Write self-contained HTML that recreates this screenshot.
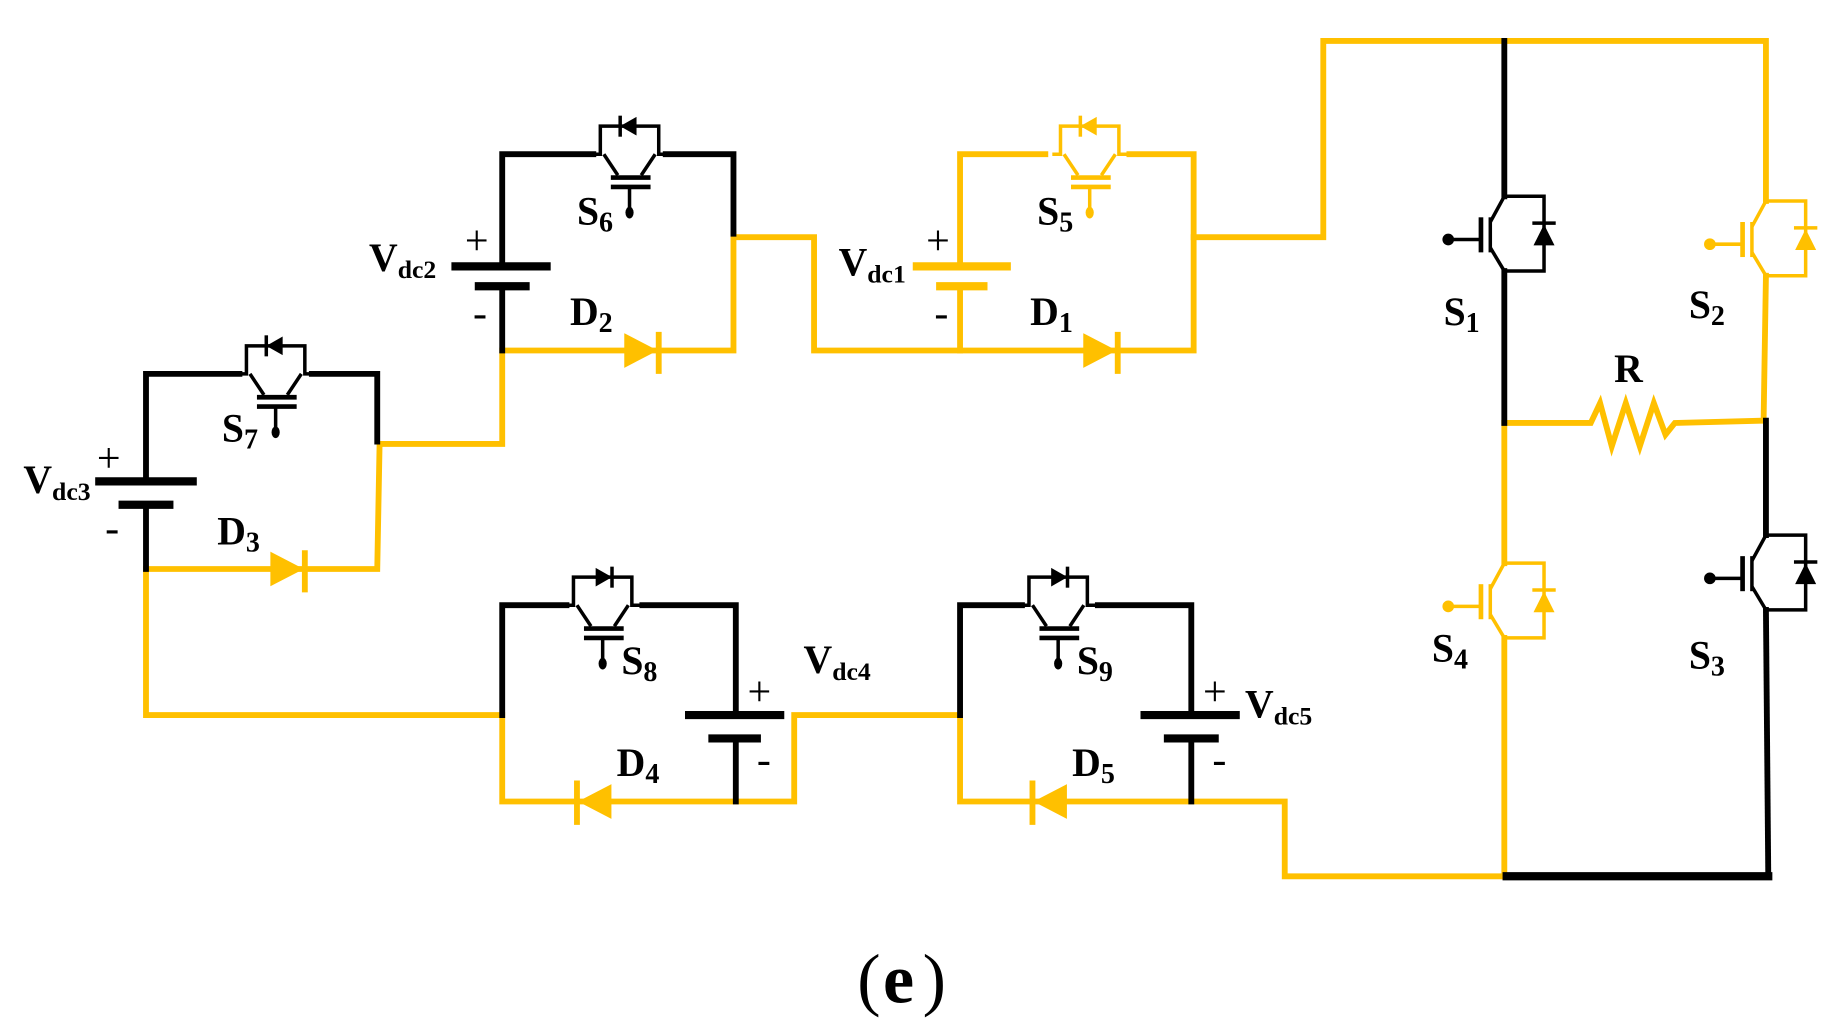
<!DOCTYPE html>
<html><head><style>
html,body{margin:0;padding:0;background:#fff;}
svg{display:block;}
text{font-family:"Liberation Serif",serif;font-weight:bold;fill:#000;}
</style></head><body>
<svg width="1822" height="1034" viewBox="0 0 1560 885" preserveAspectRatio="none" xmlns="http://www.w3.org/2000/svg">
<defs>
<g id="swL">
  <polyline points="-32,0 -25,0 -25,-24 25,-24 25,0 32,0" fill="none" stroke-width="3"/>
  <polygon points="-8,-24 6,-32 6,-16" stroke="none"/>
  <line x1="-8" y1="-33" x2="-8" y2="-15" stroke-width="3"/>
  <line x1="-22" y1="0" x2="-10" y2="18" stroke-width="3"/>
  <line x1="22" y1="0" x2="10" y2="18" stroke-width="3"/>
  <line x1="-16" y1="20" x2="18" y2="20" stroke-width="4"/>
  <line x1="-16" y1="28" x2="18" y2="28" stroke-width="4"/>
  <line x1="0" y1="28" x2="0" y2="48" stroke-width="3"/>
  <ellipse cx="0" cy="50" rx="3.5" ry="5" stroke="none"/>
</g>
<g id="swR">
  <polyline points="-32,0 -25,0 -25,-24 25,-24 25,0 32,0" fill="none" stroke-width="3"/>
  <polygon points="8,-24 -6,-32 -6,-16" stroke="none"/>
  <line x1="8" y1="-33" x2="8" y2="-15" stroke-width="3"/>
  <line x1="-22" y1="0" x2="-10" y2="18" stroke-width="3"/>
  <line x1="22" y1="0" x2="10" y2="18" stroke-width="3"/>
  <line x1="-16" y1="20" x2="18" y2="20" stroke-width="4"/>
  <line x1="-16" y1="28" x2="18" y2="28" stroke-width="4"/>
  <line x1="0" y1="28" x2="0" y2="48" stroke-width="3"/>
  <ellipse cx="0" cy="50" rx="3.5" ry="5" stroke="none"/>
</g>
<g id="swV">
  <polyline points="0,0 34,0 34,64 0,64" fill="none" stroke-width="3"/>
  <polygon points="25,42 43,42 34,24" stroke="none"/>
  <line x1="24" y1="23" x2="44" y2="23" stroke-width="3"/>
  <line x1="0" y1="0" x2="-12" y2="22" stroke-width="3"/>
  <line x1="-12" y1="44" x2="0" y2="64" stroke-width="3"/>
  <line x1="-12" y1="18" x2="-12" y2="48" stroke-width="3"/>
  <line x1="-20" y1="18" x2="-20" y2="48" stroke-width="4"/>
  <line x1="-20" y1="37" x2="-46" y2="37" stroke-width="3"/>
  <circle cx="-48" cy="37" r="5" stroke="none"/>
</g>
</defs>

<g fill="none" stroke-width="5" stroke-linecap="square">
<g stroke="#FFC000">
  <polyline points="1022,203 1133,203 1133,35 1512,35 1512,172"/>
  <line x1="1512" y1="236" x2="1510" y2="360"/>
  <polyline points="1288,362 1362,362 1370,345 1380,382 1392,345 1404,382 1416,345 1426,372 1434,362 1510,360"/>
  <line x1="1288" y1="362" x2="1288" y2="482"/>
  <line x1="1288" y1="546" x2="1288" y2="750"/>
  <polyline points="1288,750 1100,750 1100,686 822,686 822,612"/>
  <polyline points="822,228 822,132 895,132"/>
  <polyline points="967,132 1022,132 1022,300 697,300 697,203 630,203"/>
  <line x1="822" y1="245" x2="822" y2="300"/>
  <line x1="785" y1="228" x2="862" y2="228" stroke-width="7"/>
  <line x1="805" y1="245" x2="842" y2="245" stroke-width="7"/>
  <polyline points="628,200 628,300 430,300 430,380 325,380 323,487 125,487 125,612 430,612 430,686 680,686 680,612 822,612"/>
</g>
<g stroke="#000">
  <line x1="1288" y1="35" x2="1288" y2="168"/>
  <line x1="1288" y1="232" x2="1288" y2="362"/>
  <line x1="1512" y1="360" x2="1512" y2="458"/>
  <line x1="1512" y1="522" x2="1514" y2="750"/>
  <line x1="1290" y1="750" x2="1514" y2="750" stroke-width="7"/>
  <polyline points="430,228 430,132 508,132"/>
  <polyline points="570,132 628,132 628,200"/>
  <line x1="430" y1="245" x2="430" y2="300"/>
  <line x1="390" y1="228" x2="468" y2="228" stroke-width="7"/>
  <line x1="410" y1="245" x2="450" y2="245" stroke-width="7"/>
  <polyline points="125,412 125,320 205,320"/>
  <polyline points="267,320 323,320 323,378"/>
  <line x1="125" y1="432" x2="125" y2="487"/>
  <line x1="85" y1="412" x2="165" y2="412" stroke-width="7"/>
  <line x1="105" y1="432" x2="145" y2="432" stroke-width="7"/>
  <polyline points="430,612 430,518 485,518"/>
  <polyline points="550,518 630,518 630,612"/>
  <line x1="630" y1="632" x2="630" y2="686"/>
  <line x1="590" y1="612" x2="668" y2="612" stroke-width="7"/>
  <line x1="610" y1="632" x2="648" y2="632" stroke-width="7"/>
  <polyline points="822,612 822,518 875,518"/>
  <polyline points="940,518 1020,518 1020,612"/>
  <line x1="1020" y1="632" x2="1020" y2="686"/>
  <line x1="980" y1="612" x2="1058" y2="612" stroke-width="7"/>
  <line x1="1000" y1="632" x2="1040" y2="632" stroke-width="7"/>
</g>
</g>

<g fill="#FFC000" stroke="#FFC000" stroke-width="5">
  <polygon points="535,286 562,300 535,314" stroke-width="1"/><line x1="564" y1="284" x2="564" y2="320"/>
  <polygon points="928,286 955,300 928,314" stroke-width="1"/><line x1="957" y1="284" x2="957" y2="320"/>
  <polygon points="232,473 259,487 232,501" stroke-width="1"/><line x1="261" y1="471" x2="261" y2="507"/>
  <polygon points="523,672 496,686 523,700" stroke-width="1"/><line x1="494" y1="668" x2="494" y2="706"/>
  <polygon points="913,672 886,686 913,700" stroke-width="1"/><line x1="884" y1="668" x2="884" y2="706"/>
</g>

<use href="#swL" x="539" y="132" fill="#000" stroke="#000"/>
<use href="#swL" x="933" y="132" fill="#FFC000" stroke="#FFC000"/>
<use href="#swL" x="236" y="320" fill="#000" stroke="#000"/>
<use href="#swR" x="516" y="518" fill="#000" stroke="#000"/>
<use href="#swR" x="906" y="518" fill="#000" stroke="#000"/>
<use href="#swV" x="1288" y="168" fill="#000" stroke="#000"/>
<use href="#swV" x="1512" y="172" fill="#FFC000" stroke="#FFC000"/>
<use href="#swV" x="1288" y="482" fill="#FFC000" stroke="#FFC000"/>
<use href="#swV" x="1512" y="458" fill="#000" stroke="#000"/>

<g font-size="34">
<text x="494" y="192">S<tspan font-size="24" dy="6">6</tspan></text>
<text x="888" y="192">S<tspan font-size="24" dy="6">5</tspan></text>
<text x="190" y="378">S<tspan font-size="24" dy="6">7</tspan></text>
<text x="532" y="577">S<tspan font-size="24" dy="6">8</tspan></text>
<text x="922" y="577">S<tspan font-size="24" dy="6">9</tspan></text>
<text x="1236" y="278">S<tspan font-size="24" dy="6">1</tspan></text>
<text x="1446" y="272">S<tspan font-size="24" dy="6">2</tspan></text>
<text x="1226" y="566">S<tspan font-size="24" dy="6">4</tspan></text>
<text x="1446" y="572">S<tspan font-size="24" dy="6">3</tspan></text>
<text x="488" y="278">D<tspan font-size="24" dy="6">2</tspan></text>
<text x="882" y="278">D<tspan font-size="24" dy="6">1</tspan></text>
<text x="186" y="466">D<tspan font-size="24" dy="6">3</tspan></text>
<text x="528" y="664">D<tspan font-size="24" dy="6">4</tspan></text>
<text x="918" y="664">D<tspan font-size="24" dy="6">5</tspan></text>
<text x="1382" y="327">R</text>
<text x="316" y="232">V<tspan font-size="22" dy="6">dc2</tspan></text>
<text x="718" y="236">V<tspan font-size="22" dy="6">dc1</tspan></text>
<text x="20" y="422">V<tspan font-size="22" dy="6">dc3</tspan></text>
<text x="688" y="576">V<tspan font-size="22" dy="6">dc4</tspan></text>
<text x="1066" y="614">V<tspan font-size="22" dy="6">dc5</tspan></text>
</g>
<g font-size="36">
<text x="398" y="218" style="font-weight:normal">+</text>
<text x="405" y="280" style="font-weight:normal">-</text>
<text x="793" y="218" style="font-weight:normal">+</text>
<text x="800" y="280" style="font-weight:normal">-</text>
<text x="83" y="404" style="font-weight:normal">+</text>
<text x="90" y="464" style="font-weight:normal">-</text>
<text x="640" y="604" style="font-weight:normal">+</text>
<text x="648" y="662" style="font-weight:normal">-</text>
<text x="1030" y="604" style="font-weight:normal">+</text>
<text x="1038" y="662" style="font-weight:normal">-</text>
</g>
<text x="734" y="858" font-size="60" style="font-weight:normal">(</text>
<text x="756" y="858" font-size="60">e</text>
<text x="790" y="858" font-size="60" style="font-weight:normal">)</text>
</svg>
</body></html>
